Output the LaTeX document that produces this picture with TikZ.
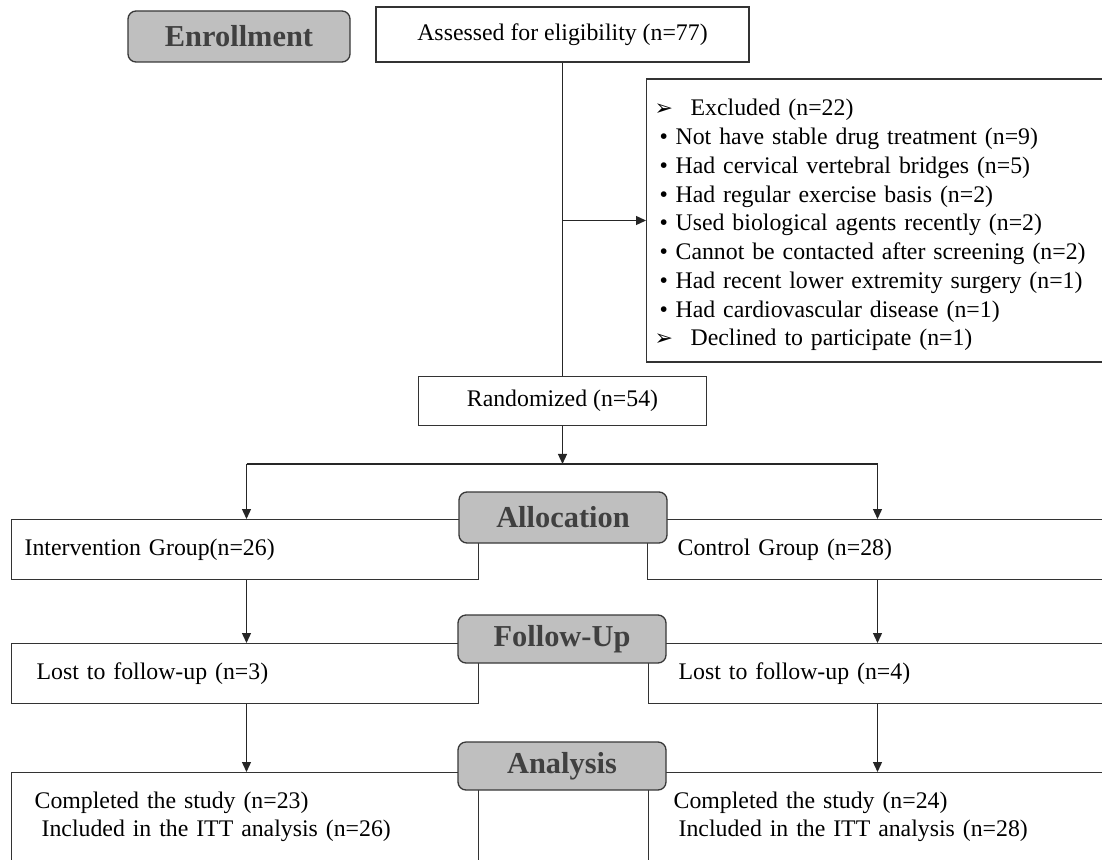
\documentclass[tikz,border=0pt]{standalone}
\usepackage{fontspec}
\setmainfont{Liberation Serif}
\newfontfamily\symfont{DejaVu Sans}
\usetikzlibrary{positioning, calc, arrows.meta}
\newcommand{\arrowitem}{\makebox[36pt][l]{\symfont\fontsize{22}{22}\selectfont ➢}}
\newcommand{\dotitem}{\hspace*{5pt}\makebox[16pt][l]{•}}
\tikzset{
every node/.style = {font = \fontsize{23.8}{28.75}\selectfont},
stage/.style = {rectangle, rounded corners = 8pt, draw = black!78, line width = 1.3pt,
   fill = black!25, text = black!75, font = \bfseries\fontsize{30.4}{32}\selectfont,
   minimum width = 208pt, minimum height = 50pt, inner sep = 0pt},
entry/.style = {rectangle, draw = black!80, line width = 1.3pt, fill = white,
   align = center, inner sep = 0pt},
group/.style = {rectangle, draw = black!80, line width = 1.3pt, fill = white,
   align = left, anchor = north west, minimum height = #1, inner ysep = 0pt},
flow/.style = {-{Triangle[length = 10pt, width = 9pt]}, line width = 1.3pt, draw = black!85},
link/.style = {line width = 1.3pt, draw = black!85}
}

\begin{document}
\begin{tikzpicture}[x = 1pt, y = -1pt]
\useasboundingbox (0,0) rectangle (1102,859);
\clip (0,0) rectangle (1102,859);

%% Enrollment
\node [entry, minimum width = 373pt, minimum height = 55pt] (assess) at (562.5,34.5)
   {Assessed for eligibility (n=77)};
\node [group = 283pt, anchor = west, text width = 470pt, inner xsep = 8pt] (excl)
   at (646,220.5)
   {\rule{0pt}{26pt}\arrowitem Excluded (n=22)\\
    \dotitem Not have stable drug treatment (n=9)\\
    \dotitem Had cervical vertebral bridges (n=5)\\
    \dotitem Had regular exercise basis (n=2)\\
    \dotitem Used biological agents recently (n=2)\\
    \dotitem Cannot be contacted after screening (n=2)\\
    \dotitem Had recent lower extremity surgery (n=1)\\
    \dotitem Had cardiovascular disease (n=1)\\
    \arrowitem Declined to participate (n=1)};
\node [entry, minimum width = 288pt, minimum height = 49pt] (rand) [below = 313pt of assess]
   {Randomized (n=54)};

%% Groups
\node [group = 60pt, text width = 441pt, inner xsep = 13pt] (interv) at (11,519)
   {Intervention Group(n=26)};
\node [group = 60pt, text width = 420pt, inner xsep = 30pt] (control) at (647,519)
   {Control Group (n=28)};

\node [group = 60pt, text width = 417pt, inner xsep = 25pt] (lostI) at (11,643)
   {Lost to follow-up (n=3)};
\node [group = 60pt, text width = 420pt, inner xsep = 30pt] (lostC) at (648,643)
   {Lost to follow-up (n=4)};

\node [group = 0pt, text width = 421pt, inner xsep = 23pt, inner ysep = 19pt,
   text depth = 80pt] (doneI) at (11,772)
   {Completed the study (n=23)\\\hspace*{7pt}Included in the ITT analysis (n=26)};
\node [group = 0pt, text width = 425pt, inner xsep = 25pt, inner ysep = 19pt,
   text depth = 80pt] (doneC) at (648,772)
   {Completed the study (n=24)\\\hspace*{5pt}Included in the ITT analysis (n=28)};

%% Stages
\node [stage, minimum width = 222pt, minimum height = 51pt] (enrol) at (239,36.5) {Enrollment};
\node [stage, minimum height = 51pt] (alloc) at (563,517.5) {Allocation};
\node [stage, minimum height = 48pt] (follow) at (562,639) {Follow-Up};
\node [stage, minimum height = 48pt] (analys) at (562,766) {Analysis};

%% Connectors
\coordinate (split) at (assess.south |- excl.west);
\coordinate (fork) at ($(rand.south) + (0,38)$);
\coordinate (forkL) at ($(fork) + (-316,0)$);
\coordinate (forkR) at ($(fork) + (315,0)$);

\draw [link] (assess) -- (rand);
\draw [flow] (split) -- (excl.west);
\draw [flow] (rand) -- (fork);
\draw [link] (forkL) -- (forkR);

\draw [flow] (forkL) -- (forkL |- interv.north);
\draw [flow] (forkR) -- (forkR |- control.north);
\draw [flow] (forkL |- interv.south) -- (forkL |- lostI.north);
\draw [flow] (forkR |- control.south) -- (forkR |- lostC.north);
\draw [flow] (forkL |- lostI.south) -- (forkL |- doneI.north);
\draw [flow] (forkR |- lostC.south) -- (forkR |- doneC.north);

\end{tikzpicture}
\end{document}
